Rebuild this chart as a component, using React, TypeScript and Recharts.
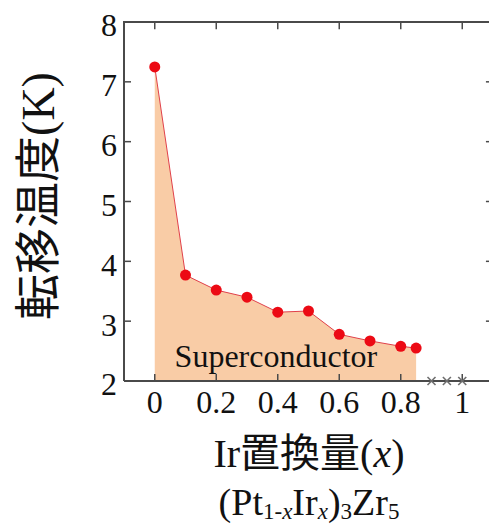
import { ComposedChart, Area, Line, Scatter, XAxis, YAxis, ReferenceDot, ReferenceLine } from 'recharts';

// Ir substitution amount x and transition temperature Tc (K)
const irAmount = [0, 0.1, 0.2, 0.3, 0.4, 0.5, 0.6, 0.7, 0.8, 0.85];
const tcValues = [7.25, 3.77, 3.52, 3.4, 3.15, 3.17, 2.78, 2.67, 2.58, 2.55];
// samples with no superconductivity above 2 K
const nonScAmount = [0.9, 0.95, 1.0];
const xTicks = [0, 0.2, 0.4, 0.6, 0.8, 1];
const yTicks = [2, 3, 4, 5, 6, 7, 8];

const data = irAmount.map((x, i) => ({ x, tc: tcValues[i] }));
const nonSc = nonScAmount.map((x) => ({ x, tc: 2 }));

const X_MIN = -0.1;
const X_MAX = 1.1;
const Y_MIN = 2;
const Y_MAX = 8;
// inward tick length in data units (about 7px each way)
const TOP_TICK = 0.12;
const RIGHT_TICK = 0.023;

const frame = '#4a4a4a';
const serif = '"Liberation Serif", "Times New Roman", serif';
const cjk = '"Noto Sans CJK JP", sans-serif';

const CrossMark = (props: any) => {
  const { cx, cy } = props;
  const s = 4;
  return (
    <g stroke="#6e6e6e" strokeWidth={1.6}>
      <line x1={cx - s} y1={cy - s} x2={cx + s} y2={cy + s} />
      <line x1={cx - s} y1={cy + s} x2={cx + s} y2={cy - s} />
    </g>
  );
};

const sub = (content: any) => (
  <span style={{ fontSize: 23, verticalAlign: -4, lineHeight: 0 }}>{content}</span>
);

export default function App() {
  return (
    <div
      style={{
        position: 'absolute',
        left: 0,
        top: 0,
        width: 489,
        height: 526,
        overflow: 'hidden',
        background: '#fff',
        fontFamily: serif,
      }}
    >
      <ComposedChart width={500} height={526} data={data} margin={{ top: 22, right: 7, left: 64, bottom: 105 }}>
        <XAxis
          type="number"
          dataKey="x"
          domain={[X_MIN, X_MAX]}
          ticks={xTicks}
          tickFormatter={(v: number) => String(v)}
          height={40}
          tickSize={-7}
          tickMargin={16}
          axisLine={{ stroke: frame, strokeWidth: 2 }}
          tickLine={{ stroke: frame, strokeWidth: 1.5 }}
          tick={{ fill: '#111', fontSize: 32, fontFamily: serif }}
        />
        <YAxis
          type="number"
          domain={[Y_MIN, Y_MAX]}
          ticks={yTicks}
          width={60}
          tickSize={-7}
          tickMargin={14}
          axisLine={{ stroke: frame, strokeWidth: 2 }}
          tickLine={{ stroke: frame, strokeWidth: 1.5 }}
          tick={{ fill: '#111', fontSize: 32, fontFamily: serif, dy: 3 }}
        />
        {/* top and right frame with inward ticks */}
        <ReferenceLine y={Y_MAX} stroke={frame} strokeWidth={2} ifOverflow="visible" />
        <ReferenceLine x={X_MAX} stroke={frame} strokeWidth={2} ifOverflow="visible" />
        {xTicks.map((t) => (
          <ReferenceLine
            key={`tt${t}`}
            segment={[
              { x: t, y: Y_MAX },
              { x: t, y: Y_MAX - TOP_TICK },
            ]}
            stroke={frame}
            strokeWidth={1.5}
            ifOverflow="visible"
          />
        ))}
        {yTicks.map((t) => (
          <ReferenceLine
            key={`rt${t}`}
            segment={[
              { x: X_MAX - RIGHT_TICK, y: t },
              { x: X_MAX, y: t },
            ]}
            stroke={frame}
            strokeWidth={1.5}
            ifOverflow="visible"
          />
        ))}
        <Area
          type="linear"
          dataKey="tc"
          baseValue={Y_MIN}
          fill="#f9cca6"
          fillOpacity={1}
          stroke="none"
          isAnimationActive={false}
        />
        <Line
          type="linear"
          dataKey="tc"
          stroke="#e0404a"
          strokeWidth={1}
          dot={{ r: 5.5, fill: '#ec0a14', stroke: '#ec0a14', strokeWidth: 0 }}
          isAnimationActive={false}
        />
        <Scatter data={nonSc} dataKey="tc" shape={<CrossMark />} isAnimationActive={false} />
        <ReferenceDot
          x={0.394}
          y={2.43}
          r={0}
          stroke="none"
          label={{ value: 'Superconductor', position: 'center', fill: '#111', fontSize: 32, fontFamily: serif }}
        />
      </ComposedChart>

      {/* plain top border of the frame, in case the reference line is hidden */}
      <div
        style={{
          position: 'absolute',
          left: 123,
          top: 21,
          width: 370,
          height: 0,
          borderTop: `2px solid ${frame}`,
        }}
      />

      <div
        style={{
          position: 'absolute',
          left: 36,
          top: 196,
          transform: 'translate(-50%, -50%) rotate(-90deg)',
          whiteSpace: 'nowrap',
          fontSize: 46,
          lineHeight: 1,
          color: '#111',
        }}
      >
        <span style={{ fontFamily: cjk }}>転移温度</span>(K)
      </div>

      <div
        style={{
          position: 'absolute',
          left: 309,
          top: 452,
          transform: 'translate(-50%, -50%)',
          whiteSpace: 'nowrap',
          fontSize: 40,
          lineHeight: 1,
          color: '#111',
        }}
      >
        Ir<span style={{ fontFamily: cjk }}>置換量</span>(<i>x</i>)
      </div>

      <div
        style={{
          position: 'absolute',
          left: 309,
          top: 483,
          transform: 'translateX(-50%)',
          whiteSpace: 'nowrap',
          fontSize: 38,
          lineHeight: 1,
          color: '#111',
        }}
      >
        (Pt{sub(<>1-<i>x</i></>)}Ir{sub(<i>x</i>)}){sub('3')}Zr{sub('5')}
      </div>
    </div>
  );
}
